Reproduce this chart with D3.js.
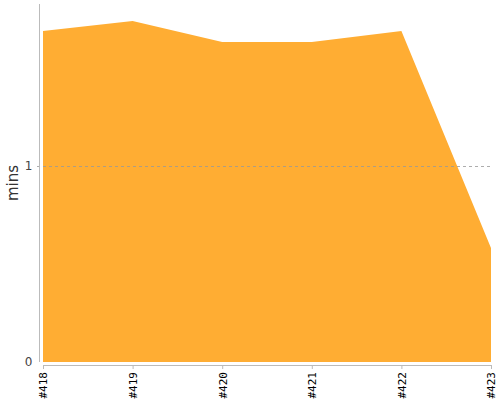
<!DOCTYPE html>
<html>
<head>
<meta charset="utf-8">
<script src="https://cdn.jsdelivr.net/npm/d3@7"></script>
<style>
  body { margin: 0; background: #fff; }
  svg { display: block; font-family: "DejaVu Sans", sans-serif; }
</style>
</head>
<body>
<div id="chart"></div>
<script>
// data ---------------------------------------------------------------
const builds = ['#418', '#419', '#420', '#421', '#422', '#423'];
const mins = [1.689, 1.74, 1.633, 1.633, 1.689, 0.582];
const yTicks = [0, 1];

const width = 500;
const height = 400;
const margin = {top: 4, right: 9, bottom: 38, left: 43};

const svg = d3.select('#chart').append('svg')
  .attr('width', width)
  .attr('height', height);

const x = d3.scalePoint()
  .domain(builds)
  .range([margin.left, width - margin.right]);

const y = d3.scaleLinear()
  .domain([0, d3.max(mins) * 1.05])
  .range([height - margin.bottom, margin.top]);

const data = builds.map((b, i) => ({build: b, val: mins[i]}));

// area
const area = d3.area()
  .x(d => x(d.build))
  .y0(y(0))
  .y1(d => y(d.val));

svg.append('path')
  .datum(data)
  .attr('fill', '#ffad33')
  .attr('d', area);

// grid line (dashed) for non-zero ticks
svg.append('g')
  .selectAll('line')
  .data(yTicks.filter(t => t !== 0))
  .enter()
  .append('line')
  .attr('x1', margin.left - 6)
  .attr('x2', width - margin.right - 1)
  .attr('y1', d => Math.round(y(d)) + 0.5)
  .attr('y2', d => Math.round(y(d)) + 0.5)
  .attr('stroke', '#999')
  .attr('stroke-opacity', 0.8)
  .attr('stroke-width', 1)
  .attr('stroke-dasharray', '3,3');

// y axis (offset from the plot)
const yAxisX = margin.left - 3.5;
svg.append('line')
  .attr('x1', yAxisX).attr('x2', yAxisX)
  .attr('y1', margin.top).attr('y2', y(0))
  .attr('stroke', '#bbb');

svg.append('g')
  .selectAll('text')
  .data(yTicks)
  .enter()
  .append('text')
  .attr('x', yAxisX - 7)
  .attr('y', d => y(d))
  .attr('dy', '0.35em')
  .attr('text-anchor', 'end')
  .attr('font-size', 12)
  .attr('fill', '#444')
  .text(d => d);

// y label
svg.append('text')
  .attr('transform', 'translate(18,' + ((margin.top + y(0)) / 2) + ') rotate(-90)')
  .attr('text-anchor', 'middle')
  .attr('font-size', 15)
  .attr('fill', '#333')
  .text('mins');

// x axis (offset below)
const xAxisY = y(0) + 3;
const xAxis = svg.append('g')
  .attr('transform', 'translate(0,' + xAxisY + ')')
  .call(d3.axisBottom(x).tickSize(4).tickSizeOuter(0));
xAxis.select('.domain').attr('stroke', '#bbb');
xAxis.selectAll('.tick line').attr('stroke', '#bbb');
xAxis.selectAll('.tick text')
  .attr('font-family', '"DejaVu Sans Mono", monospace')
  .attr('font-size', 11)
  .attr('fill', '#000')
  .attr('text-anchor', 'end')
  .attr('transform', 'rotate(-90)')
  .attr('x', -7)
  .attr('y', 0)
  .attr('dy', '0.35em');
</script>
</body>
</html>
